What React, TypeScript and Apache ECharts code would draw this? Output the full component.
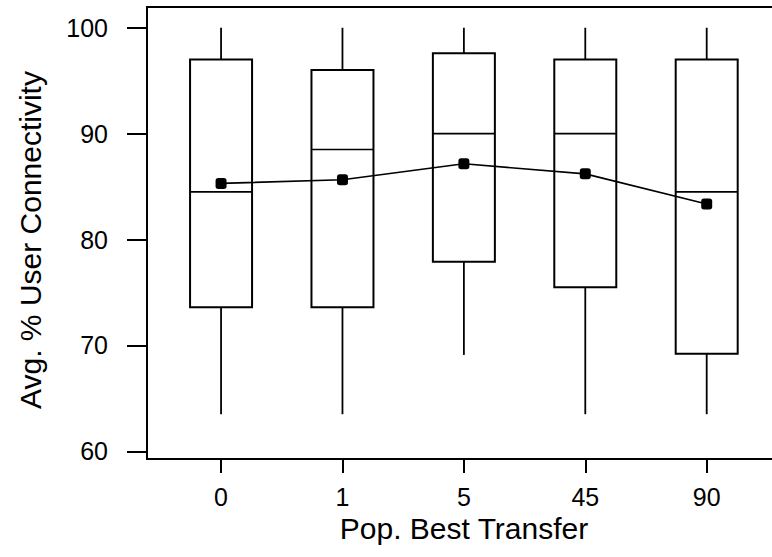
import React, { useEffect, useRef } from "react";
import * as echarts from "echarts";

const categories = ["0", "1", "5", "45", "90"];
const whiskerLow = [63.5, 63.5, 69.1, 63.5, 63.5];
const q1 = [73.6, 73.6, 77.9, 75.5, 69.2];
const median = [84.5, 88.5, 90, 90, 84.5];
const q3 = [97, 96, 97.6, 97, 97];
const whiskerHigh = [100, 100, 100, 100, 100];
const means = [85.3, 85.65, 87.15, 86.2, 83.35];
const yTicks = [60, 70, 80, 90, 100];

const FONT = '"Liberation Sans", Arial, Helvetica, sans-serif';

export default function App() {
  const ref = useRef<HTMLDivElement>(null);
  useEffect(() => {
    if (!ref.current) return;
    const chart = echarts.init(ref.current, undefined, { renderer: "svg" });
    const positions = categories.map((_, i) => i + 1);
    const boxData = positions.map((p, i) => [p, whiskerLow[i], q1[i], median[i], q3[i], whiskerHigh[i]]);
    const meanData = positions.map((p, i) => [p, means[i]]);
    chart.setOption({
      animation: false,
      grid: {
        left: 147,
        top: 7,
        width: 634,
        height: 452,
        show: true,
        borderColor: "#000",
        borderWidth: 2,
        backgroundColor: "transparent",
      },
      xAxis: {
        type: "value",
        min: 0.39,
        max: 5.612,
        name: "Pop. Best Transfer",
        nameLocation: "middle",
        nameGap: 51,
        nameTextStyle: { fontFamily: FONT, fontSize: 30, color: "#000" },
        axisLine: { show: false },
        splitLine: { show: false },
        axisTick: {
          show: true,
          customValues: positions,
          length: 14,
          lineStyle: { color: "#000", width: 2 },
        },
        axisLabel: {
          customValues: positions,
          formatter: (v: number) => categories[Math.round(v) - 1] ?? "",
          margin: 25,
          fontFamily: FONT,
          fontSize: 25,
          color: "#000",
        },
      },
      yAxis: {
        type: "value",
        min: 59.27,
        max: 101.96,
        name: "Avg. % User Connectivity",
        nameLocation: "middle",
        nameGap: 102,
        nameTextStyle: { fontFamily: FONT, fontSize: 30, color: "#000", padding: [0, 14, 0, 0] },
        axisLine: { show: false },
        splitLine: { show: false },
        axisTick: {
          show: true,
          customValues: yTicks,
          length: 20,
          lineStyle: { color: "#000", width: 2 },
        },
        axisLabel: {
          customValues: yTicks,
          margin: 39,
          fontFamily: FONT,
          fontSize: 25,
          color: "#000",
        },
      },
      series: [
        {
          type: "custom",
          data: boxData,
          encode: { x: 0, y: [1, 2, 3, 4, 5] },
          z: 2,
          renderItem: (params: any, api: any) => {
            const x = api.value(0);
            const pLo = api.coord([x, api.value(1)]);
            const pQ1 = api.coord([x, api.value(2)]);
            const pMed = api.coord([x, api.value(3)]);
            const pQ3 = api.coord([x, api.value(4)]);
            const pHi = api.coord([x, api.value(5)]);
            const half = 31;
            const cx = pMed[0];
            const stroke = { stroke: "#000", fill: "none" };
            return {
              type: "group",
              children: [
                {
                  type: "line",
                  shape: { x1: cx, y1: pQ3[1], x2: cx, y2: pHi[1] },
                  style: { ...stroke, lineWidth: 1.8 },
                },
                {
                  type: "line",
                  shape: { x1: cx, y1: pQ1[1], x2: cx, y2: pLo[1] },
                  style: { ...stroke, lineWidth: 1.8 },
                },
                {
                  type: "rect",
                  shape: { x: cx - half, y: pQ3[1], width: half * 2, height: pQ1[1] - pQ3[1] },
                  style: { ...stroke, lineWidth: 2 },
                },
                {
                  type: "line",
                  shape: { x1: cx - half, y1: pMed[1], x2: cx + half, y2: pMed[1] },
                  style: { ...stroke, lineWidth: 1.6 },
                },
              ],
            };
          },
        },
        {
          type: "line",
          data: meanData,
          z: 5,
          symbol: "roundRect",
          symbolSize: 11,
          itemStyle: { color: "#000" },
          lineStyle: { color: "#000", width: 1.6 },
        },
      ],
    });
    return () => chart.dispose();
  }, []);
  return (
    <div style={{ position: "fixed", left: 0, top: 0, width: 772, height: 557, overflow: "hidden", background: "#fff" }}>
      <div ref={ref} style={{ width: 790, height: 557 }} />
    </div>
  );
}
